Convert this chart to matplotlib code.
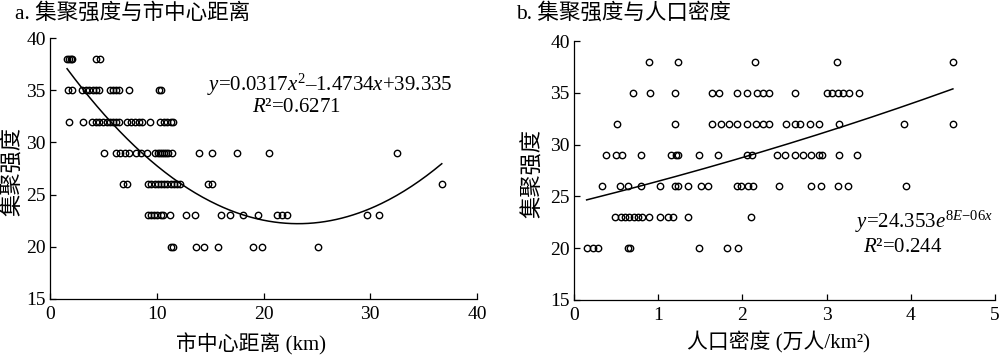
import numpy as np
import matplotlib
matplotlib.use('Agg')
import matplotlib.pyplot as plt

plt.rcParams['font.family'] = ['Liberation Serif', 'Noto Sans CJK SC']
plt.rcParams['font.size'] = 14
plt.rcParams['mathtext.fontset'] = 'custom'
plt.rcParams['mathtext.rm'] = 'Liberation Serif'
plt.rcParams['mathtext.it'] = 'Liberation Serif:italic'

# a. 集聚强度 vs 市中心距离 (km), x values grouped by intensity level
dist_38 = [1.6, 1.8, 2.0, 2.1, 4.3, 4.7]
dist_35 = [1.7, 2.1, 3.0, 3.4, 3.7, 4.0, 4.3, 4.6, 5.6, 5.9, 6.2, 6.5, 7.4, 10.2, 10.4]
dist_32 = [1.8, 3.1, 3.9, 4.3, 4.6, 5.0, 5.3, 5.6, 5.9, 6.2, 6.5, 7.2, 7.6, 8.0, 8.3,
           8.6, 9.4, 10.3, 10.7, 11.0, 11.3, 11.5]
dist_29 = [5.1, 6.2, 6.6, 7.0, 7.4, 8.1, 8.5, 9.1, 9.8, 10.1, 10.3, 10.5, 10.7, 10.9,
           11.1, 11.4, 14.0, 15.2, 17.5, 20.5, 32.5]
dist_26 = [6.8, 7.2, 9.2, 9.5, 9.8, 10.1, 10.4, 10.7, 11.0, 11.3, 11.6, 11.9, 12.2,
           14.8, 15.2, 36.7]
dist_23 = [9.2, 9.5, 9.7, 10.0, 10.4, 10.6, 11.2, 12.7, 13.6, 16.0, 16.9, 18.1, 19.5,
           21.3, 21.7, 22.2, 29.7, 30.8]
dist_20 = [11.3, 11.5, 13.7, 14.4, 15.7, 19.0, 19.9, 25.1]

# b. 集聚强度 vs 人口密度 (万人/km2)
dens_38 = [0.89, 1.24, 2.15, 3.12, 4.50]
dens_35 = [0.70, 0.90, 1.20, 1.64, 1.72, 1.94, 2.05, 2.17, 2.24, 2.31, 2.63, 3.01,
           3.07, 3.13, 3.19, 3.27, 3.38]
dens_32 = [0.51, 1.20, 1.64, 1.74, 1.84, 1.94, 2.05, 2.16, 2.25, 2.31, 2.52, 2.63,
           2.69, 2.80, 2.91, 3.15, 3.92, 4.50]
dens_29 = [0.38, 0.50, 0.57, 0.80, 1.15, 1.21, 1.24, 1.48, 1.71, 2.06, 2.11, 2.41,
           2.51, 2.62, 2.72, 2.81, 2.91, 2.95, 3.15, 3.36]
dens_26 = [0.33, 0.55, 0.64, 0.80, 1.02, 1.20, 1.24, 1.35, 1.51, 1.59, 1.94, 1.98,
           2.07, 2.12, 2.44, 2.81, 2.93, 3.14, 3.25, 3.94]
dens_23 = [0.49, 0.56, 0.61, 0.65, 0.71, 0.76, 0.81, 0.89, 1.02, 1.12, 1.17, 1.35, 2.10]
dens_20 = [0.15, 0.23, 0.28, 0.64, 0.67, 1.49, 1.82, 1.95]

levels = [38, 35, 32, 29, 26, 23, 20]
dist_groups = [dist_38, dist_35, dist_32, dist_29, dist_26, dist_23, dist_20]
dens_groups = [dens_38, dens_35, dens_32, dens_29, dens_26, dens_23, dens_20]

# fitted trend coefficients (from the chart labels)
quad_coef = [0.0317, -1.4734, 39.335]
exp_a, exp_b = 24.353, 8.3e-6


def flatten(groups):
    xs, ys = [], []
    for lv, g in zip(levels, groups):
        xs += g
        ys += [lv] * len(g)
    return np.array(xs), np.array(ys)


def style_axis(ax):
    ax.spines['top'].set_visible(False)
    ax.spines['right'].set_visible(False)
    for s in ['left', 'bottom']:
        ax.spines[s].set_linewidth(0.9)
    ax.tick_params(direction='in', length=4, width=0.9, labelsize=14)
    ax.tick_params(axis='x', pad=5)
    ax.tick_params(axis='y', pad=3)
    ax.set_ylim(15, 40)
    ax.set_yticks([15, 20, 25, 30, 35, 40])


fig = plt.figure(figsize=(10, 3.57), dpi=100)
ax1 = fig.add_axes([0.050, 0.1625, 0.427, 0.731])
ax2 = fig.add_axes([0.574, 0.160, 0.421, 0.725])

# panel a
x1, y1 = flatten(dist_groups)
ax1.plot(x1, y1, 'o', ms=4.6, mfc='none', mec='black', mew=1.0, clip_on=False)
xf = np.linspace(x1.min(), x1.max(), 200)
ax1.plot(xf, np.polyval(quad_coef, xf), color='black', lw=1.1)
ax1.set_xlim(0, 40)
ax1.set_xticks([0, 10, 20, 30, 40])
style_axis(ax1)
ax1.set_xlabel('市中心距离 (km)', fontsize=15)
ax1.set_ylabel('集聚强度', fontsize=16)
ax1.xaxis.set_label_coords(0.47, -0.13)
ax1.yaxis.set_label_coords(-0.06, 0.49)
ax1.text(14.7, 35.5, r'$y$=0.0317$x^2$–1.4734$x$+39.335', fontsize=15, va='center')
ax1.text(18.9, 33.3, r'$R$²=0.6271', fontsize=15, va='center')

# panel b
x2, y2 = flatten(dens_groups)
ax2.plot(x2, y2, 'o', ms=4.6, mfc='none', mec='black', mew=1.0, clip_on=False)
xf2 = np.linspace(x2.min(), x2.max(), 200)
ax2.plot(xf2, exp_a * np.exp(exp_b * 10000 * xf2), color='black', lw=1.1)
ax2.set_xlim(0, 5)
ax2.set_xticks([0, 1, 2, 3, 4, 5])
style_axis(ax2)
ax2.set_xlabel('人口密度 (万人/km²)', fontsize=15)
ax2.set_ylabel('集聚强度', fontsize=16)
ax2.xaxis.set_label_coords(0.485, -0.12)
ax2.yaxis.set_label_coords(-0.07, 0.49)
ax2.text(3.34, 22.5, r'$y$=24.353$e^{\mathit{8E}{-}\mathit{06x}}$', fontsize=15, va='center')
ax2.text(3.43, 20.1, r'$R$²=0.244', fontsize=15, va='center')

fig.text(0.015, 1 - 13 / 357, 'a. 集聚强度与市中心距离', fontsize=15.5, va='center', ha='left')
fig.text(0.516, 1 - 13 / 357, 'b. 集聚强度与人口密度', fontsize=15.5, va='center', ha='left')

fig.savefig('out.png', dpi=100)
